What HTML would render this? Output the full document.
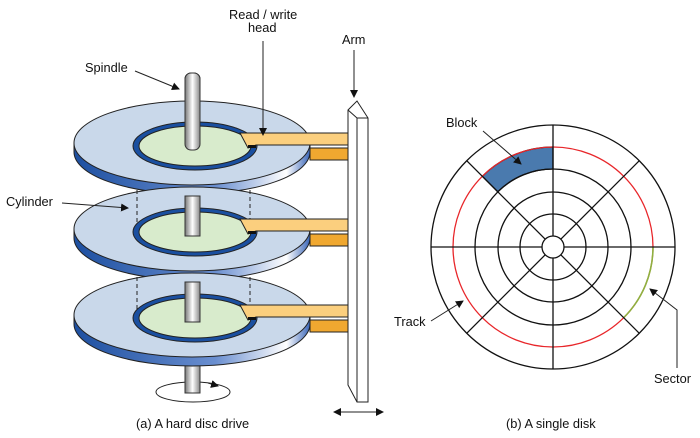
<!DOCTYPE html>
<html><head><style>body{margin:0;background:#fff}svg{display:block}text{font-family:"Liberation Sans",sans-serif;font-size:12.8px;fill:#111}</style></head><body>
<svg width="700" height="438" viewBox="0 0 700 438" xmlns="http://www.w3.org/2000/svg">
<defs>
<linearGradient id="side" x1="0" x2="1"><stop offset="0" stop-color="#1d4fa0"/><stop offset="0.6" stop-color="#6a8fd0"/><stop offset="0.9" stop-color="#ffffff"/><stop offset="1" stop-color="#3a66b8"/></linearGradient>
<linearGradient id="sp" x1="0" x2="1"><stop offset="0" stop-color="#777"/><stop offset="0.5" stop-color="#fff"/><stop offset="1" stop-color="#888"/></linearGradient>
<marker id="ah" markerWidth="8" markerHeight="8" refX="7" refY="4" orient="auto" markerUnits="userSpaceOnUse"><path d="M0,0 L8,4 L0,8 z" fill="#111"/></marker>
</defs>
<rect x="185" y="73" width="15" height="320" rx="6" fill="url(#sp)" stroke="#333"/>
<ellipse cx="193" cy="392" rx="37" ry="10" fill="none" stroke="#222"/>
<rect x="185" y="360" width="15" height="33" fill="url(#sp)" stroke="#333"/>
<path d="M208,383 L218,386" stroke="#222" marker-end="url(#ah)"/>
<g id="d">
<path d="M74,143 v9 a118,42 0 0 0 236,0 v-9 z" fill="url(#side)" stroke="#222"/>
<ellipse cx="192" cy="143" rx="118" ry="42" fill="#c9d8ea" stroke="#222"/>
<ellipse cx="195" cy="146" rx="62" ry="24" fill="#1a4fa0" stroke="#222"/>
<ellipse cx="195" cy="146" rx="56" ry="20" fill="#d8ebcc" stroke="#222"/>
</g>
<use href="#d" y="86"/>
<use href="#d" y="172"/>
<rect x="185" y="73" width="15" height="77" rx="6" fill="url(#sp)" stroke="#333"/>
<rect x="185" y="196" width="15" height="40" fill="url(#sp)" stroke="#333"/>
<rect x="185" y="282" width="15" height="40" fill="url(#sp)" stroke="#333"/>
<g stroke="#222" stroke-dasharray="4,3"><line x1="137" y1="190" x2="137" y2="225"/><line x1="250" y1="190" x2="250" y2="225"/><line x1="137" y1="277" x2="137" y2="311"/><line x1="250" y1="277" x2="250" y2="311"/></g>
<g id="h">
<path d="M310,148 L352,148 L357,160 L310,160 z" fill="#f0a830" stroke="#222"/>
<path d="M240,133 L350,133 L357,145 L256,145 L248,148 z" fill="#fbcf7e" stroke="#222"/>
<rect x="248" y="145" width="8" height="3" fill="#111"/>
</g>
<use href="#h" y="86"/>
<use href="#h" y="172"/>
<path d="M348,110 L357,101 L368,118 L368,402 L357,402 L348,385 z" fill="#fff" stroke="#222"/>
<line x1="357" y1="118" x2="368" y2="118" stroke="#222"/><line x1="348" y1="110" x2="357" y2="118" stroke="#222"/><line x1="357" y1="118" x2="357" y2="402" stroke="#222"/>
<line x1="340" y1="412" x2="383" y2="412" stroke="#222" marker-end="url(#ah)"/>
<path d="M333,412 l8,-4 v8 z" fill="#111"/>
<text x="85" y="72">Spindle</text>
<line x1="135" y1="71" x2="179" y2="89" stroke="#222" marker-end="url(#ah)"/>
<text x="229" y="19">Read / write</text>
<text x="248" y="32">head</text>
<line x1="263" y1="41" x2="263" y2="135" stroke="#222" marker-end="url(#ah)"/>
<text x="342" y="44">Arm</text>
<line x1="354" y1="50" x2="354" y2="97" stroke="#222" marker-end="url(#ah)"/>
<text x="6" y="206">Cylinder</text>
<line x1="62" y1="203" x2="128" y2="208" stroke="#222" marker-end="url(#ah)"/>
<text x="136" y="428">(a) A hard disc drive</text>
<g fill="none" stroke="#111" stroke-width="1.3">
<path d="M553,147 A100,100 0 0 0 482.3,176.3 L497.8,191.8 A78,78 0 0 1 553,169 z" fill="#4a7aae"/>
<circle cx="553" cy="247" r="122"/>
<circle cx="553" cy="247" r="100" stroke="#e8262a"/>
<path d="M653,247 A100,100 0 0 1 623.7,317.7" stroke="#8fb040" stroke-width="1.6"/>
<circle cx="553" cy="247" r="78"/><circle cx="553" cy="247" r="55"/><circle cx="553" cy="247" r="33"/>
<circle cx="553" cy="247" r="11" fill="#fff"/>
<line x1="431" y1="247" x2="542" y2="247"/><line x1="564" y1="247" x2="675" y2="247"/>
<line x1="553" y1="125" x2="553" y2="236"/><line x1="553" y1="258" x2="553" y2="369"/>
<line x1="466.7" y1="160.7" x2="545.2" y2="239.2"/><line x1="560.8" y1="254.8" x2="639.3" y2="333.3"/>
<line x1="639.3" y1="160.7" x2="560.8" y2="239.2"/><line x1="545.2" y1="254.8" x2="466.7" y2="333.3"/>
</g>
<text x="446" y="127">Block</text>
<line x1="483" y1="131" x2="521" y2="164" stroke="#222" marker-end="url(#ah)"/>
<text x="394" y="326">Track</text>
<line x1="431" y1="321" x2="463" y2="301" stroke="#222" marker-end="url(#ah)"/>
<path d="M677,368 L677,310 L650,289" fill="none" stroke="#222" marker-end="url(#ah)"/>
<text x="654" y="383">Sector</text>
<text x="506" y="428">(b) A single disk</text>
</svg>
</body></html>
